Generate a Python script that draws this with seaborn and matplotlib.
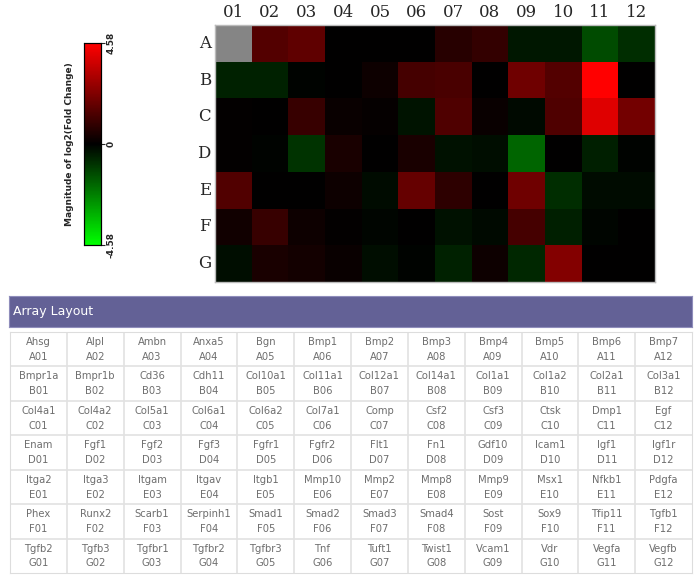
import numpy as np
import pandas as pd
import matplotlib
matplotlib.use("Agg")
import matplotlib.pyplot as plt
from matplotlib.colors import LinearSegmentedColormap
import seaborn as sns

# data: log2 fold change per well (A01 missing)
rows = ["A", "B", "C", "D", "E", "F", "G"]
cols = ["01", "02", "03", "04", "05", "06", "07", "08", "09", "10", "11", "12"]
row_A = [np.nan, 1.5, 1.7, 0.0, 0.0, 0.0, 0.7, 0.9, -0.4, -0.4, -1.35, -0.8]
row_B = [-0.6, -0.6, -0.05, 0.0, 0.25, 1.25, 1.3, 0.0, 2.0, 1.5, 4.58, 0.0]
row_C = [0.05, 0.0, 1.0, 0.15, 0.1, -0.35, 1.4, 0.15, -0.15, 1.4, 4.0, 2.05]
row_D = [0.05, -0.05, -0.9, 0.45, 0.0, 0.45, -0.3, -0.25, -1.8, 0.0, -0.55, -0.05]
row_E = [1.45, 0.0, 0.0, 0.25, -0.2, 1.8, 0.8, 0.0, 2.0, -0.8, -0.2, -0.2]
row_F = [0.3, 1.0, 0.25, 0.05, -0.1, 0.0, -0.3, -0.15, 1.25, -0.55, -0.1, 0.0]
row_G = [-0.25, 0.45, 0.35, 0.15, -0.25, -0.05, -0.6, 0.25, -0.7, 2.35, 0.0, 0.0]
vmax = 4.58

genes = [
    ["Ahsg", "Alpl", "Ambn", "Anxa5", "Bgn", "Bmp1", "Bmp2", "Bmp3", "Bmp4", "Bmp5", "Bmp6", "Bmp7"],
    ["Bmpr1a", "Bmpr1b", "Cd36", "Cdh11", "Col10a1", "Col11a1", "Col12a1", "Col14a1", "Col1a1", "Col1a2", "Col2a1", "Col3a1"],
    ["Col4a1", "Col4a2", "Col5a1", "Col6a1", "Col6a2", "Col7a1", "Comp", "Csf2", "Csf3", "Ctsk", "Dmp1", "Egf"],
    ["Enam", "Fgf1", "Fgf2", "Fgf3", "Fgfr1", "Fgfr2", "Flt1", "Fn1", "Gdf10", "Icam1", "Igf1", "Igf1r"],
    ["Itga2", "Itga3", "Itgam", "Itgav", "Itgb1", "Mmp10", "Mmp2", "Mmp8", "Mmp9", "Msx1", "Nfkb1", "Pdgfa"],
    ["Phex", "Runx2", "Scarb1", "Serpinh1", "Smad1", "Smad2", "Smad3", "Smad4", "Sost", "Sox9", "Tfip11", "Tgfb1"],
    ["Tgfb2", "Tgfb3", "Tgfbr1", "Tgfbr2", "Tgfbr3", "Tnf", "Tuft1", "Twist1", "Vcam1", "Vdr", "Vegfa", "Vegfb"],
]

df = pd.DataFrame([row_A, row_B, row_C, row_D, row_E, row_F, row_G], index=rows, columns=cols)

sns.set_style("white")
narrow = ["Liberation Sans Narrow", "DejaVu Sans"]

fig = plt.figure(figsize=(6.96, 5.80), dpi=100)
W, H = 696, 580

def box(x0, y0, x1, y1):
    return [x0 / W, 1 - y1 / H, (x1 - x0) / W, (y1 - y0) / H]

cmap = LinearSegmentedColormap.from_list("gkr", ["#00ff00", "#000000", "#ff0000"])

ax = fig.add_axes(box(215, 25, 655, 282))
cax = fig.add_axes(box(84, 43, 101, 245))
ax.set_facecolor("#858585")
sns.heatmap(df, ax=ax, cbar_ax=cax, cmap=cmap, vmin=-vmax, vmax=vmax)

ax.xaxis.tick_top()
ax.tick_params(length=0, pad=3)
ax.set_xticklabels(cols, rotation=0, family="DejaVu Serif", fontsize=12)
ax.set_yticklabels(rows, rotation=0, family="DejaVu Serif", fontsize=12)
ax.set_xlabel("")
ax.set_ylabel("")
for s in ax.spines.values():
    s.set_visible(True)
    s.set_color("#bbbbbb")
    s.set_linewidth(1)

# colorbar
cax.set_yticks([-vmax, 0, vmax])
cax.set_yticklabels(["-4.58", "0", "4.58"], rotation=90, va="center",
                    fontsize=6.5, fontweight="bold")
cax.tick_params(length=3, width=0.8, pad=1)
for s in cax.spines.values():
    s.set_visible(True)
    s.set_color("black")
    s.set_linewidth(0.8)
fig.text(70 / W, 1 - 144 / H, "Magnitude of log2(Fold Change)", rotation=90,
         ha="center", va="center", fontsize=6.5, fontweight="bold")

# table header
hax = fig.add_axes(box(9, 296, 692, 327))
hax.set_facecolor("#636196")
hax.set_xticks([])
hax.set_yticks([])
for s in hax.spines.values():
    s.set_color("#8f8dbb")
hax.text(0.006, 0.5, "Array Layout", color="white", fontsize=9,
         family=narrow, va="center", ha="left", transform=hax.transAxes)

# table grid
tax = fig.add_axes(box(10, 332, 692, 573))
tax.set_xlim(0, 12)
tax.set_ylim(7, 0)
tax.set_xticks([])
tax.set_yticks([])
for s in tax.spines.values():
    s.set_color("#dddddd")
for i in range(1, 7):
    tax.axhline(i, color="#e2e2e2", lw=1.2)
for j in range(1, 12):
    tax.axvline(j, color="#e2e2e2", lw=1.2)
for i, r in enumerate(rows):
    for j, c in enumerate(cols):
        tax.text(j + 0.5, i + 0.29, genes[i][j], ha="center", va="center",
                 fontsize=7.2, color="#6e6e6e", family=narrow)
        tax.text(j + 0.5, i + 0.72, r + c, ha="center", va="center",
                 fontsize=7.2, color="#6e6e6e", family=narrow)

fig.savefig("out.png", dpi=100)
